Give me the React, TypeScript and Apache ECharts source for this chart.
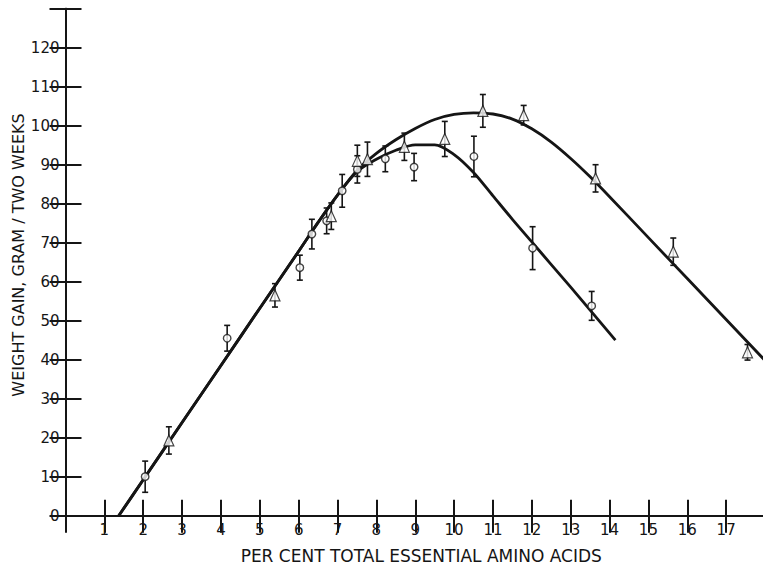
import React, { useEffect, useRef } from "react";
import * as echarts from "echarts";

// Measured points, diet series with circles
const circleX = [2.05, 4.16, 6.03, 6.34, 6.72, 7.12, 7.51, 8.23, 8.97, 10.51, 12.02, 13.54];
const circleY = [10.0, 45.5, 63.6, 72.2, 75.6, 83.3, 88.8, 91.5, 89.4, 92.1, 68.6, 53.8];
const circleErr = [4.0, 3.3, 3.2, 3.8, 3.3, 4.2, 3.5, 3.3, 3.5, 5.2, 5.5, 3.7];

// Measured points, diet series with triangles
const triX = [2.66, 5.39, 6.84, 7.51, 7.77, 8.72, 9.76, 10.74, 11.79, 13.64, 15.64, 17.55];
const triY = [19.3, 56.5, 76.8, 91.0, 91.4, 94.6, 96.6, 103.8, 102.7, 86.5, 67.7, 41.9];
const triErr = [3.5, 3.0, 3.4, 4.0, 4.4, 3.5, 4.5, 4.2, 2.5, 3.5, 3.5, 2.0];

// Fitted response curves (shared rising limb, then two branches)
const risingLimb: number[][] = [
  [1.37, 0], [2, 9.2], [3, 23.9], [4, 38.5], [5, 53.2], [6, 67.8], [6.5, 75.2], [7, 82.2],
];
const upperBranch: number[][] = [
  [7.5, 88.5], [8, 92.9], [8.5, 96.4], [9, 99.3], [9.5, 101.6], [10, 102.9], [10.5, 103.3],
  [11, 103.0], [11.5, 101.7], [12, 99.2], [12.5, 95.8], [13, 91.6], [13.5, 86.9], [14, 81.8],
  [15, 71.3], [16, 60.8], [17, 50.3], [18, 39.8],
];
const lowerBranch: number[][] = [
  [7.5, 88.2], [8, 91.4], [8.5, 93.7], [9, 95.1], [9.5, 95.1], [10, 92.6], [10.5, 88.0],
  [11, 82.0], [11.5, 76.0], [12, 70.2], [12.5, 64.4], [13, 58.6], [13.5, 52.7], [14.15, 45.0],
];

const xLabelMin = 1;
const xLabelMax = 17;
const yLabelMax = 120;

const xTitle = "PER CENT TOTAL ESSENTIAL AMINO ACIDS";
const yTitle = "WEIGHT GAIN, GRAM / TWO WEEKS";

const INK = "#151515";
const FONT = "DejaVu Sans";

function errorData(xs: number[], ys: number[], es: number[]) {
  return xs.map((x, i) => [x, ys[i] - es[i], ys[i] + es[i]]);
}

function renderErrorBar(params: any, api: any) {
  const x = api.value(0);
  const lo = api.coord([x, api.value(1)]);
  const hi = api.coord([x, api.value(2)]);
  const w = 3;
  const style = { stroke: INK, lineWidth: 1.6 };
  return {
    type: "group",
    children: [
      { type: "line", shape: { x1: lo[0], y1: lo[1], x2: hi[0], y2: hi[1] }, style },
      { type: "line", shape: { x1: hi[0] - w, y1: hi[1], x2: hi[0] + w, y2: hi[1] }, style },
      { type: "line", shape: { x1: lo[0] - w, y1: lo[1], x2: lo[0] + w, y2: lo[1] }, style },
    ],
  };
}

export default function App() {
  const ref = useRef<HTMLDivElement>(null);

  useEffect(() => {
    if (!ref.current) return;
    const chart = echarts.init(ref.current, undefined, { renderer: "svg" });

    const frameLine = { show: true, lineStyle: { color: INK, width: 2 } };
    const innerTick = (len: number) => ({
      show: true,
      inside: true,
      length: len,
      lineStyle: { color: INK, width: 2 },
    });
    const curveStyle = { color: INK, width: 2.8 };

    chart.setOption({
      animation: false,
      backgroundColor: "#ffffff",
      grid: {
        left: 65.5,
        top: 8.7,
        width: 699.5,
        height: 507,
        containLabel: false,
        outerBoundsMode: "none",
      },
      graphic: [
        {
          type: "text",
          x: 18,
          y: 255,
          rotation: Math.PI / 2,
          style: {
            text: yTitle,
            fill: INK,
            font: `16px "${FONT}"`,
            align: "center",
            verticalAlign: "middle",
          },
        },
      ],
      xAxis: [
        {
          type: "value",
          position: "bottom",
          min: 0,
          max: 18,
          interval: 1,
          axisLine: frameLine,
          axisTick: innerTick(16),
          splitLine: { show: false },
          axisLabel: {
            color: INK,
            fontFamily: FONT,
            fontSize: 15,
            margin: 7,
            formatter: (v: number) => (v >= xLabelMin && v <= xLabelMax ? String(v) : ""),
          },
          name: xTitle,
          nameLocation: "middle",
          nameGap: 32,
          nameTextStyle: { color: INK, fontFamily: FONT, fontSize: 17, padding: [0, 0, 0, 12] },
        },
        {
          type: "value",
          position: "top",
          min: 0,
          max: 18,
          interval: 1,
          axisLine: frameLine,
          axisTick: innerTick(17),
          axisLabel: { show: false },
          splitLine: { show: false },
        },
      ],
      yAxis: [
        {
          type: "value",
          position: "left",
          min: 0,
          max: 130,
          interval: 10,
          axisLine: frameLine,
          axisTick: innerTick(16),
          splitLine: { show: false },
          axisLabel: {
            color: INK,
            fontFamily: FONT,
            fontSize: 15,
            margin: 6,
            formatter: (v: number) => (v <= yLabelMax ? String(v) : ""),
          },
        },
        {
          type: "value",
          position: "right",
          min: 0,
          max: 130,
          interval: 10,
          axisLine: frameLine,
          axisTick: innerTick(16),
          axisLabel: { show: false },
          splitLine: { show: false },
        },
      ],
      series: [
        {
          type: "line",
          data: [...risingLimb, ...upperBranch],
          showSymbol: false,
          smooth: 0.3,
          lineStyle: curveStyle,
          z: 2,
        },
        {
          type: "line",
          data: [...risingLimb, ...lowerBranch],
          showSymbol: false,
          smooth: 0.3,
          lineStyle: curveStyle,
          z: 2,
        },
        {
          type: "custom",
          data: errorData(circleX, circleY, circleErr),
          renderItem: renderErrorBar,
          encode: { x: 0, y: [1, 2] },
          z: 3,
        },
        {
          type: "custom",
          data: errorData(triX, triY, triErr),
          renderItem: renderErrorBar,
          encode: { x: 0, y: [1, 2] },
          z: 3,
        },
        {
          type: "scatter",
          data: circleX.map((x, i) => [x, circleY[i]]),
          symbol: "circle",
          symbolSize: 7.5,
          itemStyle: { color: "#ffffff", borderColor: INK, borderWidth: 1.4 },
          z: 4,
        },
        {
          type: "scatter",
          data: triX.map((x, i) => [x, triY[i]]),
          symbol: "triangle",
          symbolSize: [10, 11],
          itemStyle: { color: "#ffffff", borderColor: INK, borderWidth: 1.2 },
          z: 4,
        },
      ],
    });

    return () => chart.dispose();
  }, []);

  return (
    <div
      ref={ref}
      style={{ position: "fixed", left: 0, top: 0, width: 763, height: 569, background: "#fff" }}
    />
  );
}
